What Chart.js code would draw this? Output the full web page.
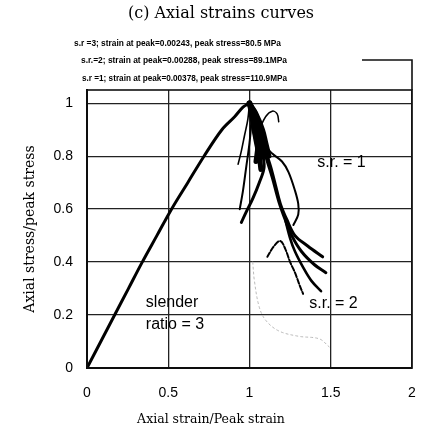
<!DOCTYPE html>
<html>
<head>
<meta charset="utf-8">
<script src="https://cdn.jsdelivr.net/npm/chart.js@4/dist/chart.umd.min.js"></script>
<style>
  html, body { margin: 0; padding: 0; background: #fff; overflow: hidden; }
  #wrap { width: 426px; height: 430px; }
  canvas { display: block; }
</style>
</head>
<body>
<div id="wrap"><canvas id="c" width="426" height="430"></canvas></div>
<script>
// ---- Data (normalized strain = axial strain / peak strain, normalized stress = stress / peak stress)
const xTickValues = [0, 0.5, 1, 1.5, 2];
const xTickLabels = ['0', '0.5', '1', '1.5', '2'];
const yTickValues = [0, 0.2, 0.4, 0.6, 0.8, 1];
const yTickLabels = ['0', '0.2', '0.4', '0.6', '0.8', '1'];

const legendLines = [
  's.r =3; strain at peak=0.00243, peak stress=80.5 MPa',
  's.r.=2; strain at peak=0.00288, peak stress=89.1MPa',
  's.r =1; strain at peak=0.00378, peak stress=110.9MPa'
];

// ascending branch (common to all slender ratios)
const ascStrain = [0, 0.085, 0.17, 0.255, 0.34, 0.43, 0.52, 0.62, 0.72, 0.83, 0.91, 0.96, 1.0];
const ascStress = [0, 0.10, 0.20, 0.30, 0.40, 0.50, 0.60, 0.70, 0.80, 0.90, 0.95, 0.985, 1.0];

// slender ratio 3 descending branches (steep)
const sr3aStrain = [1.0, 0.99, 0.97, 0.95, 0.93];
const sr3aStress = [1.0, 0.94, 0.88, 0.82, 0.77];
const sr3bStrain = [1.0, 1.01, 1.0, 0.98, 0.96, 0.94];
const sr3bStress = [1.0, 0.93, 0.85, 0.76, 0.67, 0.60];
const sr3cStrain = [1.0, 1.04, 1.07, 1.09, 1.06, 1.02, 0.98, 0.95];
const sr3cStress = [1.0, 0.92, 0.84, 0.76, 0.70, 0.64, 0.59, 0.55];

// slender ratio 1 descending branches
const sr1aStrain = [1.0, 1.04, 1.07, 1.10, 1.14, 1.20, 1.24, 1.28, 1.30, 1.30, 1.27];
const sr1aStress = [1.0, 0.97, 0.90, 0.84, 0.81, 0.78, 0.74, 0.67, 0.62, 0.58, 0.54];
const sr1bStrain = [1.0, 1.05, 1.08, 1.10, 1.13, 1.16, 1.19, 1.23, 1.28, 1.36, 1.45];
const sr1bStress = [1.0, 0.95, 0.88, 0.82, 0.76, 0.69, 0.62, 0.56, 0.50, 0.46, 0.42];
const sr1cStrain = [1.06, 1.10, 1.14, 1.17, 1.18];
const sr1cStress = [0.90, 0.95, 0.97, 0.96, 0.93];
const sr1dStrain = [1.0, 1.03, 1.05, 1.06, 1.08];
const sr1dStress = [1.0, 0.95, 0.90, 0.85, 0.80];
const sr1eStrain = [1.0, 1.02, 1.03, 1.05, 1.04];
const sr1eStress = [1.0, 0.96, 0.90, 0.84, 0.78];
const sr1fStrain = [1.0, 1.04, 1.08, 1.10, 1.12];
const sr1fStress = [1.0, 0.96, 0.90, 0.85, 0.80];
const sr1gStrain = [1.0, 1.02, 1.04, 1.06, 1.07];
const sr1gStress = [1.0, 0.93, 0.86, 0.80, 0.75];

// slender ratio 2 descending branches
const sr2aStrain = [1.0, 1.06, 1.10, 1.14, 1.18, 1.22, 1.26, 1.32, 1.40, 1.47];
const sr2aStress = [1.0, 0.90, 0.80, 0.72, 0.63, 0.56, 0.50, 0.44, 0.39, 0.36];
const sr2bStrain = [1.22, 1.25, 1.28, 1.33, 1.38, 1.44];
const sr2bStress = [0.56, 0.49, 0.44, 0.38, 0.33, 0.29];
const sr2cStrain = [1.11, 1.15, 1.19, 1.22, 1.25, 1.28, 1.31, 1.33];
const sr2cStress = [0.42, 0.46, 0.48, 0.45, 0.40, 0.36, 0.31, 0.28];
const faintStrain = [1.02, 1.03, 1.06, 1.10, 1.18, 1.30, 1.43, 1.49];
const faintStress = [0.40, 0.33, 0.23, 0.18, 0.14, 0.12, 0.11, 0.08];

// in-plot labels (text and anchor in data units)
const annoTexts = ['slender', 'ratio = 3', 's.r. = 1', 's.r. = 2'];
const annoStrain = [0.362, 0.362, 1.417, 1.368];
const annoStress = [0.246, 0.163, 0.777, 0.242];

function pts(xs, ys) { return xs.map((x, i) => ({ x: x, y: ys[i] })); }
function line(label, xs, ys, w, extra) {
  return Object.assign({
    label: label, data: pts(xs, ys), showLine: true, borderColor: '#000',
    borderWidth: w, pointRadius: 0, tension: 0.35, fill: false,
    borderCapStyle: 'round', borderJoinStyle: 'round'
  }, extra || {});
}

const datasets = [
  line('ascending', ascStrain, ascStress, 3),
  line('s.r.=3 a', sr3aStrain, sr3aStress, 1.6),
  line('s.r.=3 b', sr3bStrain, sr3bStress, 2),
  line('s.r.=3 c', sr3cStrain, sr3cStress, 3),
  line('s.r.=1 a', sr1aStrain, sr1aStress, 2),
  line('s.r.=1 b', sr1bStrain, sr1bStress, 3),
  line('s.r.=1 c', sr1cStrain, sr1cStress, 1.5),
  line('s.r.=1 d', sr1dStrain, sr1dStress, 6),
  line('s.r.=1 e', sr1eStrain, sr1eStress, 5),
  line('s.r.=1 f', sr1fStrain, sr1fStress, 5),
  line('s.r.=1 g', sr1gStrain, sr1gStress, 5),
  line('s.r.=2 a', sr2aStrain, sr2aStress, 3),
  line('s.r.=2 b', sr2bStrain, sr2bStress, 2.6),
  line('s.r.=2 c', sr2cStrain, sr2cStress, 2, { borderDash: [5, 2] }),
  line('faint', faintStrain, faintStress, 1, { borderColor: '#bbb', borderDash: [2, 3] })
];

const SANS = '"Liberation Sans", Arial, sans-serif';
const SERIF = '"DejaVu Serif", serif';

const decor = {
  id: 'decor',
  beforeDraw(chart) {
    const ctx = chart.ctx;
    ctx.save();
    ctx.fillStyle = '#fff';
    ctx.fillRect(0, 0, chart.width, chart.height);
    ctx.restore();
  },
  afterDraw(chart) {
    const ctx = chart.ctx;
    const a = chart.chartArea;
    const xs = chart.scales.x, ys = chart.scales.y;
    ctx.save();
    // frame
    ctx.strokeStyle = '#111';
    ctx.lineWidth = 1.6;
    ctx.strokeRect(a.left, a.top, a.right - a.left, a.bottom - a.top);
    // legend box corner (partially visible)
    ctx.beginPath();
    ctx.moveTo(a.right - 50, a.top - 30);
    ctx.lineTo(a.right, a.top - 30);
    ctx.lineTo(a.right, a.top);
    ctx.stroke();

    ctx.fillStyle = '#000';
    // title
    ctx.font = '16px ' + SERIF;
    ctx.textAlign = 'center';
    ctx.textBaseline = 'middle';
    ctx.fillText('(c) Axial strains curves', 221, 14);

    // legend text lines (bold, slightly condensed to the scanned width)
    ctx.font = 'bold 9.3px ' + SANS;
    ctx.textAlign = 'left';
    const lx = [74, 81, 82], ly = [43, 60, 78], lw = [207, 206, 205];
    legendLines.forEach((t, i) => {
      const w = ctx.measureText(t).width;
      ctx.save();
      ctx.translate(lx[i], ly[i]);
      ctx.scale(Math.min(1, lw[i] / w), 1);
      ctx.fillText(t, 0, 0);
      ctx.restore();
    });

    // axis titles
    ctx.font = '12.5px ' + SERIF;
    ctx.textAlign = 'center';
    ctx.fillText('Axial strain/Peak strain', 211, 420);
    ctx.save();
    ctx.translate(30, 229);
    ctx.rotate(-Math.PI / 2);
    ctx.font = '14px ' + SERIF;
    ctx.fillText('Axial stress/peak stress', 0, 0);
    ctx.restore();

    // in-plot labels
    ctx.font = '16px ' + SANS;
    ctx.textAlign = 'left';
    annoTexts.forEach((t, i) => {
      ctx.fillText(t, xs.getPixelForValue(annoStrain[i]), ys.getPixelForValue(annoStress[i]));
    });
    ctx.restore();
  }
};

new Chart(document.getElementById('c'), {
  type: 'scatter',
  data: { datasets: datasets },
  options: {
    responsive: false,
    animation: false,
    events: [],
    layout: { padding: { top: 90, right: 14, left: 0, bottom: 0 } },
    plugins: { legend: { display: false }, title: { display: false }, tooltip: { enabled: false } },
    scales: {
      x: {
        type: 'linear', min: 0, max: 2,
        afterBuildTicks: s => { s.ticks = xTickValues.map(v => ({ value: v })); },
        afterFit: s => { s.height = 62; s.paddingLeft = 0; s.paddingRight = 0; },
        grid: { color: '#222', lineWidth: 1.3, drawTicks: false },
        border: { color: '#000', width: 2 },
        ticks: {
          padding: 17, color: '#000', font: { family: SANS, size: 14 },
          maxRotation: 0,
          callback: (v) => { const i = xTickValues.indexOf(v); return i >= 0 ? xTickLabels[i] : ''; }
        }
      },
      y: {
        type: 'linear', min: 0, max: 1.05,
        afterBuildTicks: s => { s.ticks = yTickValues.map(v => ({ value: v })); },
        afterFit: s => { s.width = 87; s.paddingTop = 0; s.paddingBottom = 0; },
        grid: { color: '#222', lineWidth: 1.3, drawTicks: false },
        border: { color: '#000', width: 2 },
        ticks: {
          padding: 14, color: '#000', font: { family: SANS, size: 14 },
          callback: (v) => { const i = yTickValues.indexOf(v); return i >= 0 ? yTickLabels[i] : ''; }
        }
      }
    }
  },
  plugins: [decor]
});
</script>
</body>
</html>
